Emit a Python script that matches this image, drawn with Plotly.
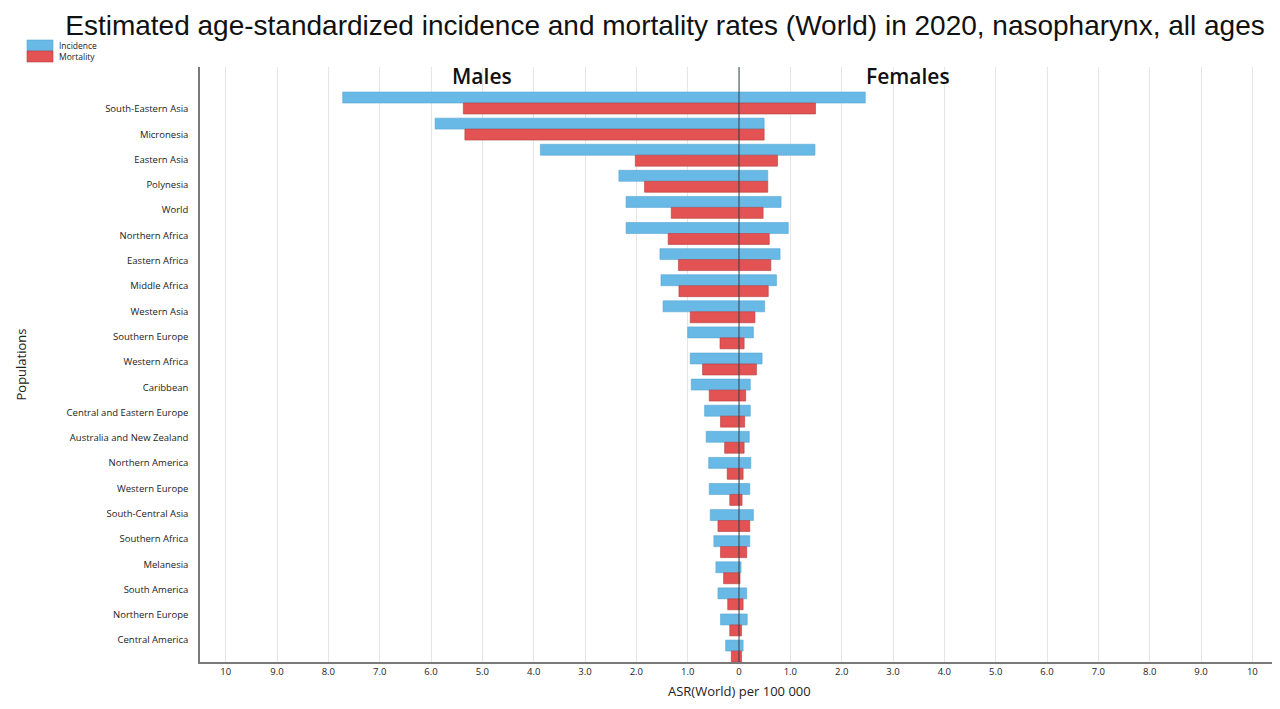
import plotly.graph_objects as go

regions = ["South-Eastern Asia", "Micronesia", "Eastern Asia", "Polynesia", "World",
           "Northern Africa", "Eastern Africa", "Middle Africa", "Western Asia",
           "Southern Europe", "Western Africa", "Caribbean", "Central and Eastern Europe",
           "Australia and New Zealand", "Northern America", "Western Europe",
           "South-Central Asia", "Southern Africa", "Melanesia", "South America",
           "Northern Europe", "Central America"]

incidence_males = [7.72, 5.92, 3.87, 2.34, 2.20, 2.20, 1.54, 1.52, 1.48, 1.00, 0.95,
                   0.93, 0.67, 0.64, 0.59, 0.58, 0.56, 0.49, 0.45, 0.41, 0.36, 0.26]
incidence_females = [2.46, 0.49, 1.48, 0.56, 0.82, 0.96, 0.80, 0.73, 0.50, 0.28, 0.45,
                     0.22, 0.22, 0.20, 0.23, 0.21, 0.28, 0.21, 0.04, 0.15, 0.16, 0.08]
mortality_males = [5.37, 5.34, 2.02, 1.84, 1.32, 1.38, 1.18, 1.17, 0.95, 0.37, 0.71,
                   0.58, 0.36, 0.28, 0.23, 0.18, 0.41, 0.36, 0.30, 0.22, 0.18, 0.15]
mortality_females = [1.49, 0.49, 0.75, 0.56, 0.47, 0.59, 0.62, 0.57, 0.31, 0.10, 0.34,
                     0.13, 0.11, 0.10, 0.08, 0.06, 0.21, 0.15, 0.02, 0.08, 0.05, 0.05]

tick_values = [-10, -9, -8, -7, -6, -5, -4, -3, -2, -1, 0, 1, 2, 3, 4, 5, 6, 7, 8, 9, 10]
tick_labels = ["10", "9.0", "8.0", "7.0", "6.0", "5.0", "4.0", "3.0", "2.0", "1.0", "0",
               "1.0", "2.0", "3.0", "4.0", "5.0", "6.0", "7.0", "8.0", "9.0", "10"]

BLUE = "#68b9e6"
RED = "#e35353"
TICK_FONT = dict(family="Open Sans", size=9.5, color="#222")

# the page body adds an 8px margin, so the figure is drawn 8px smaller and
# every position below is worked out in page pixels minus that offset
OFF = 8
W, H = 1280 - OFF, 709 - OFF
L, R, T, B = 200 - OFF, 2, 67 - OFF, 709 - 662
PW, PH = W - L - R, H - T - B

def px_x(px):
    return (px - OFF - L) / PW

def px_y(py):
    return (H - B - (py - OFF)) / PH

rows = list(range(len(regions)))
# the region labels in the source sit on a slightly tighter pitch than the bar pairs
label_pos = [0.23 + 0.969 * r for r in rows]

fig = go.Figure()
# males to the left (negative), females to the right
fig.add_trace(go.Bar(
    x=[-v for v in incidence_males] + incidence_females, y=rows + rows,
    orientation="h", name="Incidence", offset=-0.42, width=0.42, showlegend=False,
    marker=dict(color=BLUE, line=dict(color="#58a6d4", width=0.6))))
fig.add_trace(go.Bar(
    x=[-v for v in mortality_males] + mortality_females, y=rows + rows,
    orientation="h", name="Mortality", offset=0, width=0.42, showlegend=False,
    marker=dict(color=RED, line=dict(color="#b83c3c", width=0.6))))

fig.add_shape(type="line", xref="x", yref="paper", x0=0, x1=0, y0=0, y1=1,
              line=dict(color="#3c4650", width=1), layer="above")

# legend: two stacked swatches, top-left
for i, (name, col, edge) in enumerate([("Incidence", BLUE, "#58a6d4"), ("Mortality", RED, "#b83c3c")]):
    top = 40 + 11 * i
    fig.add_shape(type="rect", xref="paper", yref="paper",
                  x0=px_x(27), x1=px_x(53), y0=px_y(top + 11), y1=px_y(top),
                  fillcolor=col, line=dict(color=edge, width=0.6))
    fig.add_annotation(x=px_x(57), y=px_y(top + 5.5), xref="paper", yref="paper",
                       xanchor="left", yanchor="middle", text=name, showarrow=False,
                       font=dict(family="Open Sans", size=8.5, color="#222"))

fig.add_annotation(x=-5, y=1, xref="x", yref="paper", yanchor="middle", yshift=-9,
                   text="Males", showarrow=False,
                   font=dict(family="Open Sans", size=21, color="#111", weight=600))
fig.add_annotation(x=3.3, y=1, xref="x", yref="paper", yanchor="middle", yshift=-9,
                   text="Females", showarrow=False,
                   font=dict(family="Open Sans", size=21, color="#111", weight=600))
fig.add_annotation(x=0, y=0, xref="x", yref="paper", yshift=-40,
                   text="ASR(World) per 100 000", showarrow=False,
                   font=dict(family="Open Sans", size=13, color="#222"))
fig.add_annotation(x=px_x(9), y=0.5, xref="paper", yref="paper", xanchor="left",
                   text="Populations", showarrow=False, textangle=-90,
                   font=dict(family="Open Sans", size=13, color="#222"))

fig.update_layout(
    width=W, height=H,
    margin=dict(l=L, r=R, t=T, b=B, autoexpand=False),
    paper_bgcolor="white", plot_bgcolor="white",
    barmode="overlay", showlegend=False,
    title=dict(text="Estimated age-standardized incidence and mortality rates (World) in 2020, nasopharynx, all ages",
               x=(665 - OFF) / W, xanchor="center", y=1 - 7 / H, yanchor="top",
               xref="container", yref="container",
               font=dict(family="Liberation Sans", size=28, color="#111")),
    xaxis=dict(range=[-10.5, 10.5], tickvals=tick_values, ticktext=tick_labels,
               showgrid=True, gridcolor="#e6e6e6", gridwidth=1, zeroline=False,
               showline=True, linecolor="#7a7a7a", linewidth=1.5, ticks="",
               tickfont=TICK_FONT, automargin=False),
    yaxis=dict(range=[21.42, -1.38], tickvals=label_pos, ticktext=regions,
               showgrid=False, zeroline=False, showline=True, linecolor="#7a7a7a",
               linewidth=1.5, ticks="", ticklabelstandoff=8, tickfont=TICK_FONT,
               automargin=False),
)

fig.write_html("out.html")
